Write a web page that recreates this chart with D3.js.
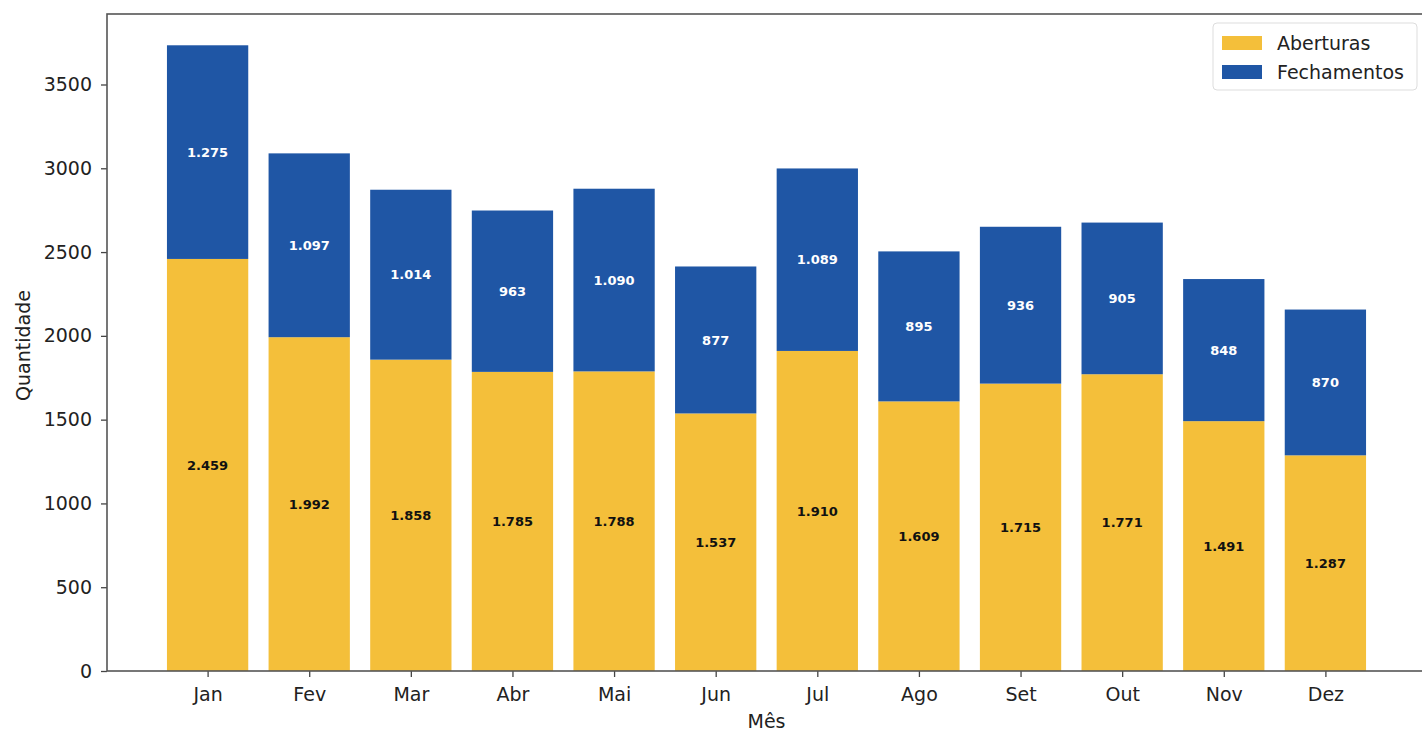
<!DOCTYPE html>
<html>
<head>
<meta charset="utf-8">
<script src="https://cdn.jsdelivr.net/npm/d3@7"></script>
<style>
  body { margin: 0; background: #fff; }
  text { font-family: "DejaVu Sans", sans-serif; }
</style>
</head>
<body>
<div id="chart"></div>
<script>
// data
const meses = ["Jan", "Fev", "Mar", "Abr", "Mai", "Jun", "Jul", "Ago", "Set", "Out", "Nov", "Dez"];
const aberturas = [2459, 1992, 1858, 1785, 1788, 1537, 1910, 1609, 1715, 1771, 1491, 1287];
const fechamentos = [1275, 1097, 1014, 963, 1090, 877, 1089, 895, 936, 905, 848, 870];
const yTicks = [0, 500, 1000, 1500, 2000, 2500, 3000, 3500];

const corAb = "#F4BF3A";
const corFe = "#1F56A5";
const fs = 19;

let w = 1422;
let h = 732;
let pLeft = 107, pTop = 14, pRight = 1426, pBottom = 671;

let svg = d3.select("#chart").append("svg")
  .attr("width", w)
  .attr("height", h);

// matplotlib-like margins: bars of width 0.8, 5% padding
let x = d3.scaleLinear()
  .domain([-0.99, 11.99])
  .range([pLeft, pRight]);

let totals = aberturas.map((a, i) => a + fechamentos[i]);
let yMax = d3.max(totals) * 1.05;
let y = d3.scaleLinear()
  .domain([0, yMax])
  .range([pBottom, pTop]);

let bw = x(0.4) - x(-0.4);

// aberturas
svg.append("g")
  .selectAll("rect")
  .data(aberturas)
  .enter()
  .append("rect")
  .attr("x", (d, i) => x(i) - bw / 2)
  .attr("width", bw)
  .attr("y", d => y(d))
  .attr("height", d => y(0) - y(d))
  .attr("fill", corAb);

// fechamentos (stacked)
svg.append("g")
  .selectAll("rect")
  .data(fechamentos)
  .enter()
  .append("rect")
  .attr("x", (d, i) => x(i) - bw / 2)
  .attr("width", bw)
  .attr("y", (d, i) => y(aberturas[i] + d))
  .attr("height", (d, i) => y(aberturas[i]) - y(aberturas[i] + d))
  .attr("fill", corFe);

// value labels
const fmt = v => v.toLocaleString("pt-BR");
svg.append("g")
  .selectAll("text")
  .data(aberturas)
  .enter()
  .append("text")
  .attr("x", (d, i) => x(i))
  .attr("y", d => y(d / 2))
  .attr("dy", "0.35em")
  .attr("text-anchor", "middle")
  .attr("font-size", 13)
  .attr("font-weight", "bold")
  .attr("fill", "#111")
  .text(d => fmt(d));

svg.append("g")
  .selectAll("text")
  .data(fechamentos)
  .enter()
  .append("text")
  .attr("x", (d, i) => x(i))
  .attr("y", (d, i) => y(aberturas[i] + d / 2))
  .attr("dy", "0.35em")
  .attr("text-anchor", "middle")
  .attr("font-size", 13)
  .attr("font-weight", "bold")
  .attr("fill", "#fff")
  .text(d => fmt(d));

// axes
let xAxis = d3.axisBottom(x)
  .tickValues(d3.range(meses.length))
  .tickFormat(i => meses[i])
  .tickSize(6)
  .tickPadding(11);

let gx = svg.append("g")
  .attr("transform", `translate(0,${pBottom})`)
  .call(xAxis);

let yAxis = d3.axisLeft(y)
  .tickValues(yTicks)
  .tickFormat(d3.format("d"))
  .tickSize(6)
  .tickPadding(9);

let gy = svg.append("g")
  .attr("transform", `translate(${pLeft},0)`)
  .call(yAxis);

[gx, gy].forEach(g => {
  g.select(".domain").remove();
  g.selectAll(".tick line").attr("stroke", "#444").attr("stroke-width", 1.3);
  g.selectAll(".tick text")
    .attr("font-size", fs)
    .attr("fill", "#222")
    .style("font-family", "DejaVu Sans");
});

// spines
svg.append("rect")
  .attr("x", pLeft)
  .attr("y", pTop)
  .attr("width", pRight - pLeft)
  .attr("height", pBottom - pTop)
  .attr("fill", "none")
  .attr("stroke", "#555")
  .attr("stroke-width", 1.6);

// axis labels
svg.append("text")
  .attr("x", x(5.5))
  .attr("y", 728)
  .attr("text-anchor", "middle")
  .attr("font-size", fs)
  .attr("fill", "#222")
  .text("Mês");

svg.append("text")
  .attr("transform", `translate(30,${(pTop + pBottom) / 2 + 3}) rotate(-90)`)
  .attr("text-anchor", "middle")
  .attr("font-size", fs)
  .attr("fill", "#222")
  .text("Quantidade");

// legend
let lg = svg.append("g").attr("transform", "translate(1213,23)");
lg.append("rect")
  .attr("width", 204)
  .attr("height", 67)
  .attr("rx", 4)
  .attr("fill", "#fff")
  .attr("fill-opacity", 0.8)
  .attr("stroke", "#ddd");

[["Aberturas", corAb], ["Fechamentos", corFe]].forEach((s, i) => {
  lg.append("rect")
    .attr("x", 9)
    .attr("y", 13 + i * 29)
    .attr("width", 40)
    .attr("height", 14)
    .attr("fill", s[1]);
  lg.append("text")
    .attr("x", 64)
    .attr("y", 20 + i * 29)
    .attr("dy", "0.35em")
    .attr("font-size", fs)
    .attr("fill", "#222")
    .text(s[0]);
});
</script>
</body>
</html>
